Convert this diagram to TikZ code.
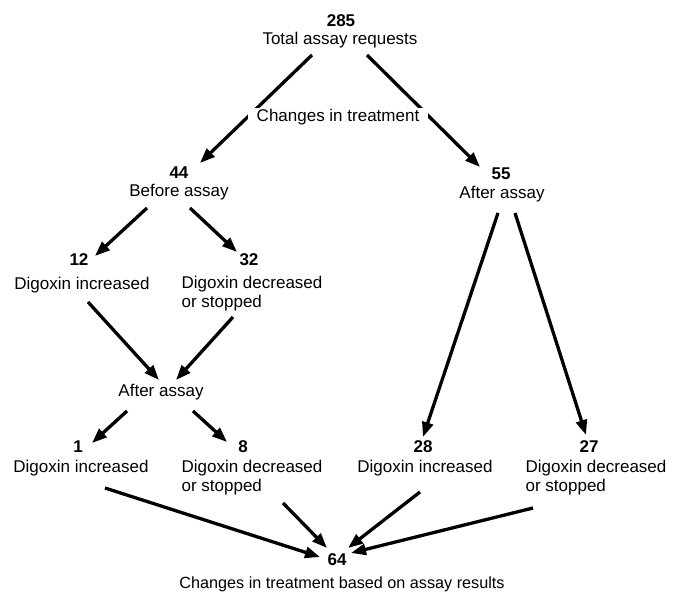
\documentclass[tikz,border=0pt]{standalone}
\usepackage{fontspec}
\setmainfont{Liberation Sans}
\usetikzlibrary{arrows.meta}

\begin{document}
\begin{tikzpicture}[x=1pt, y=-1pt,
    num/.style={font=\fontsize{17}{19}\selectfont\bfseries, inner sep=0pt},
    lbl/.style={font=\fontsize{17}{19}\selectfont, inner sep=0pt, align=left},
    arr/.style={line width=3.3pt, -{Triangle[length=15pt,width=11pt]}}]
          \useasboundingbox (0, 0) rectangle (678, 594);

          \node [num] (n285) at (341, 21) {285};
          \node [lbl] (total) at (340, 40) {Total assay requests};
          \node [num] (n44) at (179, 173) {44};
          \node [lbl] (before) at (179, 192) {Before assay};
          \node [num] (n55) at (501, 174) {55};
          \node [lbl] (after55) at (502, 194) {After assay};
          \node [num] (n12) at (79, 260) {12};
          \node [lbl] (inc12) at (82, 285) {Digoxin increased};
          \node [num] (n32) at (249, 260) {32};
          \node [lbl] (dec32) at (252, 294) {Digoxin decreased\\or stopped};
          \node [lbl] (afterL) at (161, 392) {After assay};
          \node [num] (n1) at (78, 447) {1};
          \node [lbl] (inc1) at (81, 468) {Digoxin increased};
          \node [num] (n8) at (243, 447) {8};
          \node [lbl] (dec8) at (252, 478) {Digoxin decreased\\or stopped};
          \node [num] (n28) at (423, 447) {28};
          \node [lbl] (inc28) at (425, 468) {Digoxin increased};
          \node [num] (n27) at (589, 447) {27};
          \node [lbl] (dec27) at (596, 478) {Digoxin decreased\\or stopped};
          \node [num] (n64) at (337, 560) {64};
          \node [lbl, font=\fontsize{16.2}{19}\selectfont] (result) at (342, 584) {Changes in treatment based on assay results};

          % top split, cut by the label below
          \draw [arr] ([shift={(-28,15)}]total.center) -- ([shift={(21,-10)}]n44.center);
          \draw [arr] ([shift={(27,15)}]total.center) -- ([shift={(-21,-7)}]n55.center);
          \node [lbl, fill=white, inner xsep=9pt, inner ysep=1.5pt] (changes) at (338, 117) {Changes in treatment};

          % before assay
          \draw [arr] ([shift={(-32,16)}]before.center) -- ([shift={(16,-4)}]n12.center);
          \draw [arr] ([shift={(11,16)}]before.center) -- ([shift={(-12,-8)}]n32.center);
          \draw [arr] ([shift={(6,17)}]inc12.center) -- ([shift={(-2,-12)}]afterL.center);
          \draw [arr] ([shift={(-19,23)}]dec32.center) -- ([shift={(15,-12)}]afterL.center);
          \draw [arr] ([shift={(-34,19)}]afterL.center) -- ([shift={(14,-4)}]n1.center);
          \draw [arr] ([shift={(32,19)}]afterL.center) -- ([shift={(-16,-5)}]n8.center);

          % after assay
          \draw [arr] ([shift={(-4,19)}]after55.center) -- ([shift={(0,-10)}]n28.center);
          \draw [arr] ([shift={(13,19)}]after55.center) -- ([shift={(-3,-12)}]n27.center);

          % into the total
          \draw [arr] ([shift={(24,20)}]inc1.center) -- ([shift={(-17,-3)}]n64.center);
          \draw [arr] ([shift={(31,25)}]dec8.center) -- ([shift={(-10,-12)}]n64.center);
          \draw [arr] ([shift={(-5,24)}]inc28.center) -- ([shift={(11,-12)}]n64.center);
          \draw [arr] ([shift={(-63,30)}]dec27.center) -- ([shift={(14,-7)}]n64.center);
\end{tikzpicture}
\end{document}
